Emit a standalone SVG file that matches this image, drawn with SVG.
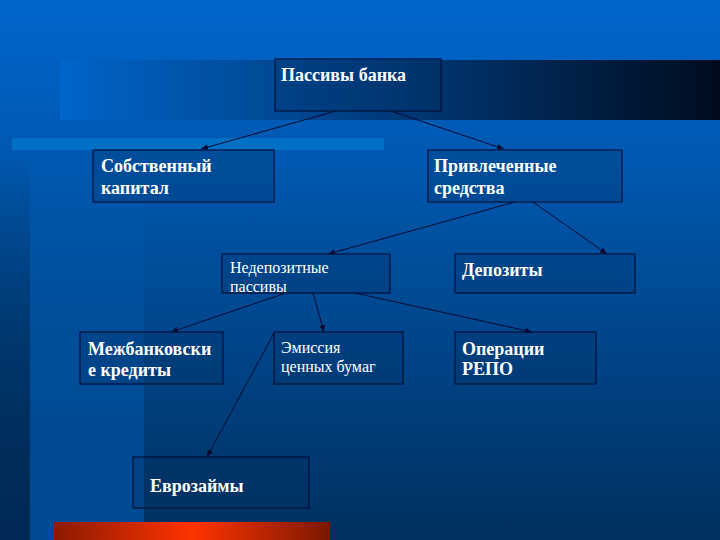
<svg xmlns="http://www.w3.org/2000/svg" width="720" height="540" viewBox="0 0 720 540">
<defs>
<linearGradient id="bg" x1="0" y1="0" x2="0" y2="1">
<stop offset="0" stop-color="#0066cc"/>
<stop offset="0.3" stop-color="#0058b0"/>
<stop offset="1" stop-color="#00305f"/>
</linearGradient>
<linearGradient id="band" x1="0" y1="0" x2="1" y2="0">
<stop offset="0" stop-color="#0066cc"/>
<stop offset="0.05" stop-color="#0060c0"/>
<stop offset="0.5" stop-color="#003a7a"/>
<stop offset="1" stop-color="#000c1e"/>
</linearGradient>
<linearGradient id="strip" x1="0" y1="0" x2="0" y2="1">
<stop offset="0" stop-color="#0060bf" stop-opacity="0"/>
<stop offset="1" stop-color="#004a94" stop-opacity="1"/>
</linearGradient>
<linearGradient id="edge" x1="0" y1="0" x2="0" y2="1">
<stop offset="0" stop-color="#002850" stop-opacity="0"/>
<stop offset="1" stop-color="#002a55" stop-opacity="1"/>
</linearGradient>
<linearGradient id="red" x1="0" y1="0" x2="1" y2="0">
<stop offset="0" stop-color="#8a1a00"/>
<stop offset="0.5" stop-color="#ff3300"/>
<stop offset="1" stop-color="#7a1800"/>
</linearGradient>
<marker id="arr" markerWidth="8" markerHeight="8" refX="7" refY="4" orient="auto" markerUnits="userSpaceOnUse">
<path d="M0,1 L7,4 L0,7 Z" fill="#0a0a33"/>
</marker>
<style>
.box{fill:#002a5c;fill-opacity:0.25;stroke:#00103a;stroke-width:1.2}
.t{font-family:"Liberation Serif","Times New Roman","DejaVu Serif",serif;font-weight:bold;font-size:18px;fill:#ffffff}
.n{font-family:"Liberation Serif","Times New Roman","DejaVu Serif",serif;font-size:16px;fill:#ffffff}
.c{stroke:#0a0a33;stroke-width:1;fill:none;marker-end:url(#arr)}
</style>
</defs>
<g id="background">
<rect x="0" y="0" width="720" height="540" fill="url(#bg)"/>
<rect x="0" y="150" width="30" height="390" fill="url(#edge)"/>
<rect x="30" y="150" width="114" height="390" fill="url(#strip)"/>
<rect x="60" y="60" width="660" height="60" fill="url(#band)"/>
<rect x="12" y="138" width="372" height="12" fill="#0070c4"/>
<rect x="54" y="522" width="276" height="18" fill="url(#red)"/>
</g>
<g id="connectors">
<line class="c" x1="336" y1="111" x2="201" y2="149"/>
<line class="c" x1="391" y1="111" x2="504" y2="149"/>
<line class="c" x1="515" y1="202" x2="328" y2="254"/>
<line class="c" x1="533" y1="202" x2="607" y2="254"/>
<line class="c" x1="286" y1="293" x2="171" y2="332"/>
<line class="c" x1="313" y1="293" x2="324" y2="332"/>
<line class="c" x1="355" y1="293" x2="532" y2="332"/>
<line class="c" x1="274" y1="333" x2="207" y2="457"/>
</g>
<g id="n1"><rect class="box" x="275" y="59" width="166" height="52"/><text class="t" x="281" y="81">Пассивы банка</text></g>
<g id="n2"><rect class="box" x="93" y="150" width="181" height="52"/><text class="t" x="101" y="172">Собственный</text><text class="t" x="101" y="194">капитал</text></g>
<g id="n3"><rect class="box" x="428" y="150" width="194" height="52"/><text class="t" x="434" y="172">Привлеченные</text><text class="t" x="434" y="194">средства</text></g>
<g id="n4"><rect class="box" x="222" y="254" width="168" height="39"/><text class="n" x="230" y="273">Недепозитные</text><text class="n" x="230" y="292">пассивы</text></g>
<g id="n5"><rect class="box" x="455" y="254" width="180" height="39"/><text class="t" x="462" y="276">Депозиты</text></g>
<g id="n6"><rect class="box" x="80" y="332" width="143" height="52"/><text class="t" x="88" y="355">Межбанковски</text><text class="t" x="88" y="376">е кредиты</text></g>
<g id="n7"><rect class="box" x="274" y="332" width="129" height="52"/><text class="n" x="281" y="353">Эмиссия</text><text class="n" x="281" y="372">ценных бумаг</text></g>
<g id="n8"><rect class="box" x="455" y="332" width="141" height="52"/><text class="t" x="462" y="355">Операции</text><text class="t" x="462" y="375">РЕПО</text></g>
<g id="n9"><rect class="box" x="133" y="457" width="176" height="51"/><text class="t" x="150" y="492">Еврозаймы</text></g>
</svg>
